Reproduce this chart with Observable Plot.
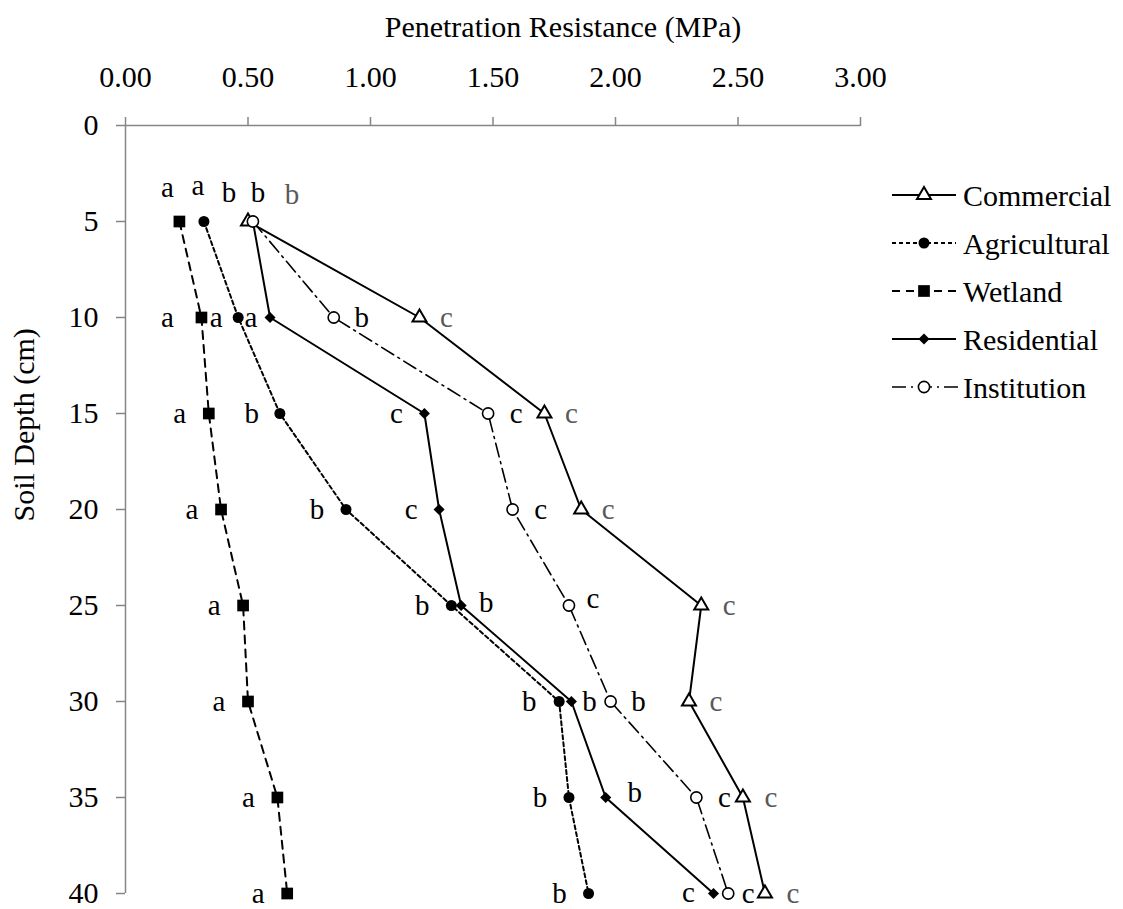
<!DOCTYPE html>
<html>
<head>
<meta charset="utf-8">
<script src="https://cdn.jsdelivr.net/npm/d3@7"></script>
<script src="https://cdn.jsdelivr.net/npm/@observablehq/plot@0.6"></script>
<style>
  html, body { margin: 0; padding: 0; background: #fff; }
  #chart { width: 1123px; height: 909px; }
</style>
</head>
<body>
<div id="chart"></div>
<script>
// Soil depth (cm) at which penetration resistance was sampled
const depths = [5, 10, 15, 20, 25, 30, 35, 40];

// Penetration resistance (MPa) by land use
const commercial   = [0.50, 1.20, 1.71, 1.86, 2.35, 2.30, 2.52, 2.61];
const agricultural = [0.32, 0.46, 0.63, 0.90, 1.33, 1.77, 1.81, 1.89];
const wetland      = [0.22, 0.31, 0.34, 0.39, 0.48, 0.50, 0.62, 0.66];
const residential  = [0.52, 0.59, 1.22, 1.28, 1.37, 1.82, 1.96, 2.40];
const institution  = [0.52, 0.85, 1.48, 1.58, 1.81, 1.98, 2.33, 2.46];

// Significance letters at each depth
const commercialLetters   = ["b", "c", "c", "c", "c", "c", "c", "c"];
const agriculturalLetters = ["a", "a", "b", "b", "b", "b", "b", "b"];
const wetlandLetters      = ["a", "a", "a", "a", "a", "a", "a", "a"];
const residentialLetters  = ["b", "a", "c", "c", "b", "b", "b", "c"];
const institutionLetters  = ["b", "b", "c", "c", "c", "b", "c", "c"];

// Axis ticks
const xTicks = [0, 0.5, 1, 1.5, 2, 2.5, 3];
const yTicks = [0, 5, 10, 15, 20, 25, 30, 35, 40];

// Letter placement next to each marker (pixels)
const commercialDx   = [44, 27, 27, 27, 28, 27, 28, 28];
const commercialDy   = [-27, 0, 0, 0, 0, 0, 0, 0];
const agriculturalDx = [-6, -22, -28, -29, -29, -30, -29, -29];
const agriculturalDy = [-36, 0, 0, 0, 0, 0, 0, 0];
const wetlandDx      = [-12, -34, -29, -29, -29, -29, -29, -29];
const wetlandDy      = [-34, 0, 0, 0, 0, 0, 0, 0];
const residentialDx  = [-24, -19, -28, -28, 25, 18, 29, -25];
const residentialDy  = [-29, 0, 0, 0, -3, 0, -5, -1];
const institutionDx  = [5, 28, 28, 28, 24, 28, 28, 20];
const institutionDy  = [-29, 0, 0, 0, -7, 0, 0, 0];

const FONT = "'Liberation Serif', 'Times New Roman', serif";
const AXIS = "#868686";

const series = [
  {name: "Commercial", values: commercial, letters: commercialLetters, dxs: commercialDx, dys: commercialDy,
   symbol: "triangle", r: 5.2, fill: "white", dotStroke: 2, dash: null, width: 2, letterColor: "#595959"},
  {name: "Agricultural", values: agricultural, letters: agriculturalLetters, dxs: agriculturalDx, dys: agriculturalDy,
   symbol: "circle", r: 5.5, fill: "black", dotStroke: 0, dash: "4,3", width: 2, letterColor: "black"},
  {name: "Wetland", values: wetland, letters: wetlandLetters, dxs: wetlandDx, dys: wetlandDy,
   symbol: "square", r: 6.6, fill: "black", dotStroke: 0, dash: "8,6", width: 2, letterColor: "black"},
  {name: "Residential", values: residential, letters: residentialLetters, dxs: residentialDx, dys: residentialDy,
   symbol: "diamond2", r: 5, fill: "black", dotStroke: 0, dash: null, width: 2, letterColor: "black"},
  {name: "Institution", values: institution, letters: institutionLetters, dxs: institutionDx, dys: institutionDy,
   symbol: "circle", r: 5.6, fill: "white", dotStroke: 1.6, dash: "14,5,2,5", width: 1.6, letterColor: "black"}
];

const rows = s => depths.map((d, i) => ({depth: d, value: s.values[i], letter: s.letters[i], i}));

const marks = [
  Plot.ruleY([0], {stroke: AXIS, strokeWidth: 1.5}),
  Plot.ruleX([0], {stroke: AXIS, strokeWidth: 1.5}),
  Plot.axisX({anchor: "top", ticks: xTicks, tickFormat: d => d.toFixed(2), tickSize: 9, tickPadding: 30,
              stroke: AXIS, strokeWidth: 1.5, fill: "black", fontSize: 30, label: null}),
  Plot.axisY({anchor: "left", ticks: yTicks, tickSize: 9, tickPadding: 18,
              stroke: AXIS, strokeWidth: 1.5, fill: "black", fontSize: 30, label: null}),
  Plot.text(["Penetration Resistance (MPa)"], {frameAnchor: "top", dx: 70, dy: -110, fontSize: 30, fill: "black"}),
  Plot.text(["Soil Depth (cm)"], {frameAnchor: "left", rotate: -90, dx: -101, dy: 12, fontSize: 30, fill: "black"})
];

for (const s of series) {
  marks.push(Plot.line(rows(s), {x: "value", y: "depth", stroke: "black", strokeWidth: s.width,
                                 strokeDasharray: s.dash ?? undefined}));
}
for (const s of series) {
  marks.push(Plot.dot(rows(s), {x: "value", y: "depth", symbol: () => s.symbol, r: s.r, fill: s.fill,
                                stroke: "black", strokeWidth: s.dotStroke}));
  // one text mark per letter so each can sit at its own offset
  for (const row of rows(s)) {
    marks.push(Plot.text([row], {x: "value", y: "depth", text: "letter", dx: s.dxs[row.i], dy: s.dys[row.i],
                                 fontSize: 29, fill: s.letterColor}));
  }
}

const chart = Plot.plot({
  width: 1123,
  height: 909,
  marginLeft: 125,
  marginRight: 263,
  marginTop: 125,
  marginBottom: 16,
  x: {domain: [0, 3]},
  y: {domain: [0, 40], reverse: true},
  symbol: {type: "identity"},
  style: {fontFamily: FONT, fontSize: "30px", background: "white", color: "black"},
  marks
});

// Legend to the right of the plot area
const svg = d3.select(chart);
const legend = svg.append("g").attr("font-family", FONT).attr("font-size", 30).attr("text-anchor", "start");
const symbolTypes = {triangle: d3.symbolTriangle, circle: d3.symbolCircle, square: d3.symbolSquare, diamond2: d3.symbolDiamond2};
series.forEach((s, k) => {
  const y = 195 + k * 48;
  const row = legend.append("g").attr("transform", `translate(0,${y})`);
  row.append("line").attr("x1", 892).attr("x2", s.name === "Institution" ? 960 : 956)
     .attr("y1", 0).attr("y2", 0).attr("stroke", "black").attr("stroke-width", s.width)
     .attr("stroke-dasharray", s.dash);
  row.append("path").attr("transform", "translate(924,0)")
     .attr("d", d3.symbol(symbolTypes[s.symbol], Math.PI * s.r * s.r)())
     .attr("fill", s.fill).attr("stroke", "black").attr("stroke-width", s.dotStroke);
  row.append("text").attr("x", 963).attr("y", 11).attr("fill", "black").text(s.name);
});

document.getElementById("chart").appendChild(chart);
</script>
</body>
</html>
